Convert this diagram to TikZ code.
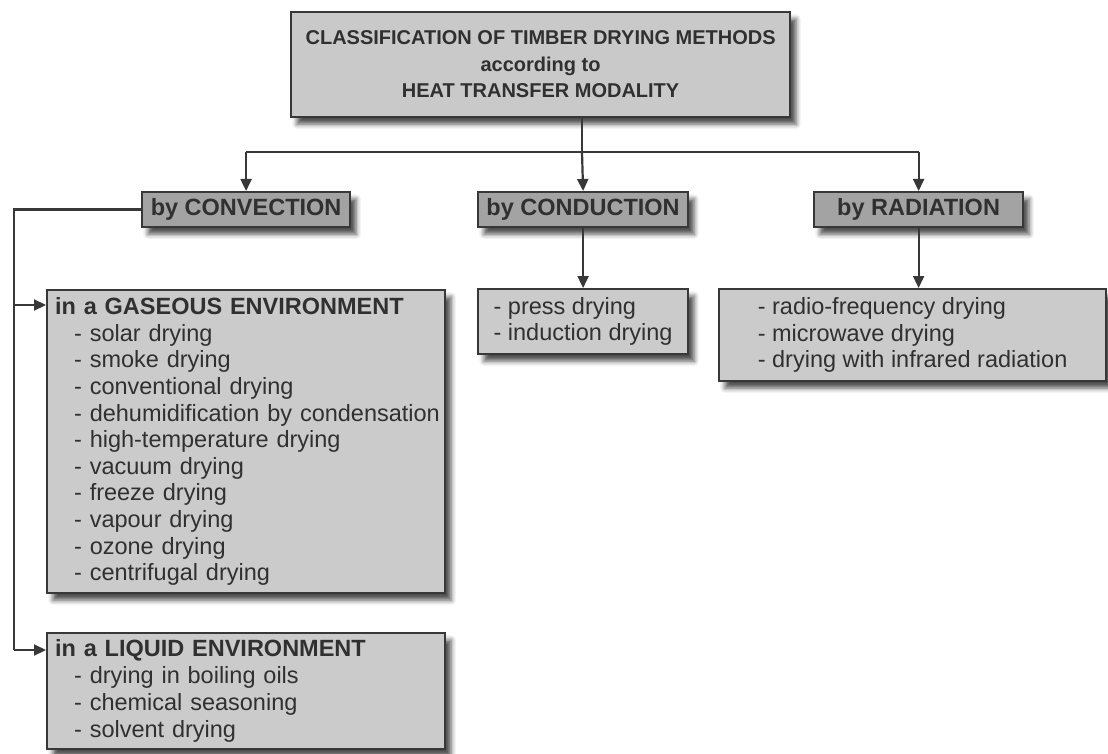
\documentclass[tikz,border=0pt]{standalone}
\usepackage{fontspec}
\setmainfont{Liberation Sans}
\usetikzlibrary{arrows.meta,positioning,shadows.blur}

\definecolor{titlegray}{HTML}{C9C9C9}
\definecolor{boxgray}{HTML}{CBCBCB}
\definecolor{headgray}{HTML}{A3A3A3}
\definecolor{linegray}{HTML}{383838}
\definecolor{textgray}{HTML}{303030}

\newcommand{\ditem}[1]{\hspace*{19pt}\mbox{- #1}}

\begin{document}
\begin{tikzpicture}[x=1pt, y=1pt,
    box/.style={draw=linegray, line width=2.2pt, fill=boxgray, text=textgray, anchor=north west, inner sep=0pt,
      blur shadow={shadow xshift=6pt, shadow yshift=-7pt, shadow blur radius=5pt, shadow opacity=70}},
    headbox/.style={box, fill=headgray, minimum height=35pt, font=\fontsize{23.5}{26}\selectfont\bfseries},
    listbox/.style={box, align=left, font=\fontsize{23.5}{26.6}\selectfont},
    envbox/.style={listbox, inner xsep=8pt, text width=382pt},
    link/.style={draw=linegray, line width=2.2pt},
    arr/.style={link, -{Triangle[length=12pt, width=11pt]}}]
  \useasboundingbox (0,0) rectangle (1108,-754);

  % heading
  \node[box, fill=titlegray, minimum width=499pt, minimum height=105pt, align=center,
    font=\fontsize{20}{26.5}\selectfont\bfseries] (title) at (290,-11)
    {CLASSIFICATION OF TIMBER DRYING METHODS\\according to\\HEAT TRANSFER MODALITY};

  % three modalities
  \node[headbox, minimum width=208pt] (conv) at (141,-191) {by CONVECTION};
  \node[headbox, minimum width=210pt] (cond) at (477,-191) {by CONDUCTION};
  \node[headbox, minimum width=209pt] (rad) at (813,-191) {by RADIATION};

  % methods
  \node[listbox, minimum width=210pt, minimum height=65pt] (condlist) at (477,-288)
    {- press drying\\- induction drying};
  \node[listbox, minimum width=387pt, minimum height=92pt] (radlist) at (718,-288)
    {- radio-frequency drying\\- microwave drying\\- drying with infrared radiation};
  \node[envbox, minimum height=303pt] (gas) at (46,-289)
    {\textbf{in a GASEOUS ENVIRONMENT}\\
     \ditem{solar drying}\\
     \ditem{smoke drying}\\
     \ditem{conventional drying}\\
     \ditem{dehumidification by condensation}\\
     \ditem{high-temperature drying}\\
     \ditem{vacuum drying}\\
     \ditem{freeze drying}\\
     \ditem{vapour drying}\\
     \ditem{ozone drying}\\
     \ditem{centrifugal drying}};
  \node[envbox, minimum height=116pt, font=\fontsize{23.5}{27}\selectfont] (liq) at (46,-632)
    {\textbf{in a LIQUID ENVIRONMENT}\\
     \ditem{drying in boiling oils}\\
     \ditem{chemical seasoning}\\
     \ditem{solvent drying}};

  % connectors
  \coordinate (hub) at (582,-152);
  \coordinate (bus) at (14,-208);
  \coordinate (gasin) at ([yshift=-16pt]gas.north west);
  \coordinate (liqin) at ([yshift=-18pt]liq.north west);

  \draw[link] (title.south -| hub) -- (hub);
  \draw[link] (conv.north |- hub) -- (rad.north |- hub);
  \draw[arr] (conv.north |- hub) -- (conv.north);
  \draw[arr] (hub) -- (cond.north);
  \draw[arr] (rad.north |- hub) -- (rad.north);
  \draw[arr] (cond.south) -- (condlist.north);
  \draw[arr] (rad.south) -- (rad.south |- radlist.north);
  \draw[link] (conv.west) -| (bus |- liqin);
  \draw[arr] (bus |- gasin) -- (gasin);
  \draw[arr] (bus |- liqin) -- (liqin);
\end{tikzpicture}
\end{document}
